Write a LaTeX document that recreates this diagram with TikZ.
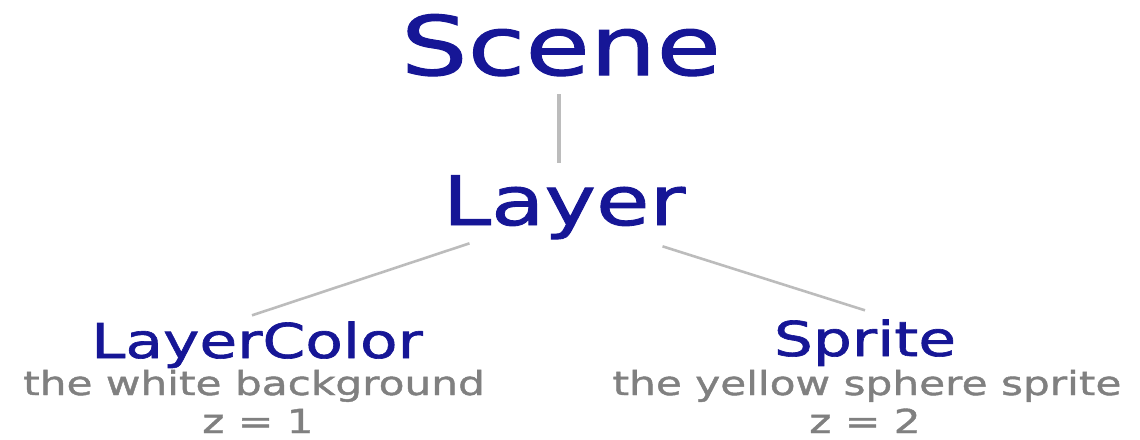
\documentclass[tikz,border=0pt]{standalone}
\usepackage{fontspec}
\setmainfont{DejaVu Sans}[FakeStretch=1.28, FakeBold=1.3]
\usetikzlibrary{calc}
\definecolor{titleblue}{RGB}{22,22,150}
\definecolor{notegray}{RGB}{128,128,128}
\definecolor{linkgray}{RGB}{188,188,188}
\tikzset{
  title/.style={text=titleblue, inner sep=0pt, anchor=base},
  note/.style={text=notegray, inner sep=0pt, anchor=base, font=\fontsize{33}{33}\selectfont},
  link/.style={draw=linkgray, line width=2.6pt},
}
\begin{document}
\begin{tikzpicture}[x=1pt, y=-1pt]
  \useasboundingbox (0,0) rectangle (1140,439);
  % tree labels
  \node[title, font=\fontsize{82}{82}\selectfont] (scene) at (561,75) {Scene};
  \node[title, font=\fontsize{68}{68}\selectfont] (layer) at (564,225) {Layer};
  \node[title, font=\fontsize{48}{48}\selectfont] (lcolor) at (257,358) {LayerColor};
  \node[title, font=\fontsize{48}{48}\selectfont] (sprite) at (865,356) {Sprite};
  % descriptions
  \node[note] (lcdesc) at (254,395) {the white background};
  \node[note] (lcz) at (258,433) {z = 1};
  \node[note] (spdesc) at (867,395) {the yellow sphere sprite};
  \node[note] (spz) at (865,433) {z = 2};
  % connectors
  \draw[link, line width=3.2pt, shorten <=18pt, shorten >=12pt]
    ([xshift=-2pt]scene.south) -- ([xshift=-2pt]scene.south |- layer.north);
  \draw[link] ([xshift=27pt, yshift=-4pt]layer.south west) -- ([xshift=-5pt, yshift=6pt]lcolor.north);
  \draw[link] ([xshift=-23pt, yshift=-7pt]layer.south east) -- ([yshift=9pt]sprite.north);
\end{tikzpicture}
\end{document}
